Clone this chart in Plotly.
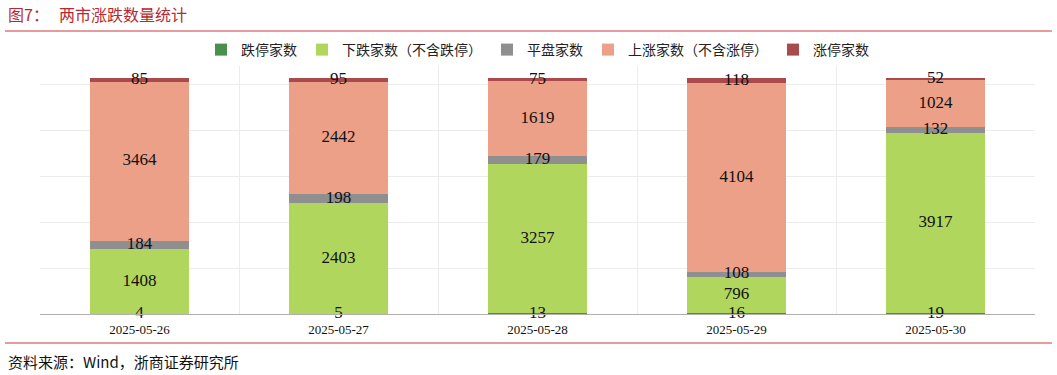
import plotly.graph_objects as go

dates = ["2025-05-26", "2025-05-27", "2025-05-28", "2025-05-29", "2025-05-30"]
limit_down = [4, 5, 13, 16, 19]
down = [1408, 2403, 3257, 796, 3917]
flat = [184, 198, 179, 108, 132]
up = [3464, 2442, 1619, 4104, 1024]
limit_up = [85, 95, 75, 118, 52]

series = [
    ("跌停家数", limit_down, "#4a8f4c"),
    ("下跌家数（不含跌停）", down, "#b0d65e"),
    ("平盘家数", flat, "#8f8f8f"),
    ("上涨家数（不含涨停）", up, "#eca088"),
    ("涨停家数", limit_up, "#a94a4c"),
]

fig = go.Figure()
base = [0] * len(dates)
label_x, label_y, label_t = [], [], []
for name, vals, color in series:
    fig.add_trace(go.Bar(
        x=dates, y=vals, name=name, marker=dict(color=color, line=dict(width=0)),
        width=0.5, hoverinfo="skip",
    ))
    for i, v in enumerate(vals):
        label_x.append(dates[i])
        label_y.append(base[i] + v / 2)
        label_t.append(str(v))
        base[i] += v

fig.add_trace(go.Scatter(
    x=label_x, y=label_y, text=label_t, mode="text", showlegend=False,
    textfont=dict(family="Liberation Serif", size=17, color="#111111"),
    textposition="middle center", hoverinfo="skip", cliponaxis=False,
))

W, H = 1057, 375
ML, MR, MT, MB = 40, 22, 65, 61
plot_h = H - MT - MB
plot_w = W - ML - MR


def py(pix):
    return (H - MB - pix) / plot_h


def px(pix):
    return (pix - ML) / plot_w


fig.update_layout(
    barmode="stack",
    width=W, height=H,
    margin=dict(l=ML, r=MR, t=MT, b=MB),
    paper_bgcolor="white", plot_bgcolor="white",
    legend=dict(
        orientation="h", x=0.5, xanchor="center", y=py(50), yanchor="middle",
        font=dict(family="Noto Sans CJK SC", size=14, color="#222222"),
        traceorder="normal",
    ),
    xaxis=dict(
        type="category", tickson="boundaries", showgrid=True, gridcolor="#ececec",
        gridwidth=1, showline=True, linecolor="#b0b0b0", ticks="",
        ticklabelstandoff=3,
        tickfont=dict(family="Liberation Serif", size=13, color="#111111"),
    ),
    yaxis=dict(
        range=[0, 5420], dtick=1000, showticklabels=False, showgrid=True,
        gridcolor="#ececec", zeroline=False, showline=False,
    ),
    shapes=[
        dict(type="line", xref="paper", yref="paper", x0=px(5), x1=px(1052),
             y0=py(31), y1=py(31), line=dict(color="#d0393b", width=1.2)),
        dict(type="line", xref="paper", yref="paper", x0=px(5), x1=px(1052),
             y0=py(343), y1=py(343), line=dict(color="#d0393b", width=1.2)),
    ],
    annotations=[
        dict(text="图7：", x=px(6), y=py(14), xref="paper", yref="paper",
             xanchor="left", yanchor="middle", showarrow=False,
             font=dict(family="Noto Sans CJK SC", size=16, color="#b8282e")),
        dict(text="两市涨跌数量统计", x=px(57), y=py(14), xref="paper", yref="paper",
             xanchor="left", yanchor="middle", showarrow=False,
             font=dict(family="Noto Sans CJK SC", size=16, color="#b8282e")),
        dict(text="资料来源：Wind，浙商证券研究所", x=px(6), y=py(361), xref="paper", yref="paper",
             xanchor="left", yanchor="middle", showarrow=False,
             font=dict(family="Noto Sans CJK SC", size=15, color="#111111")),
    ],
)

fig.write_html("out.html", config={"displayModeBar": False},
               post_script="document.body.style.margin='0px';")
